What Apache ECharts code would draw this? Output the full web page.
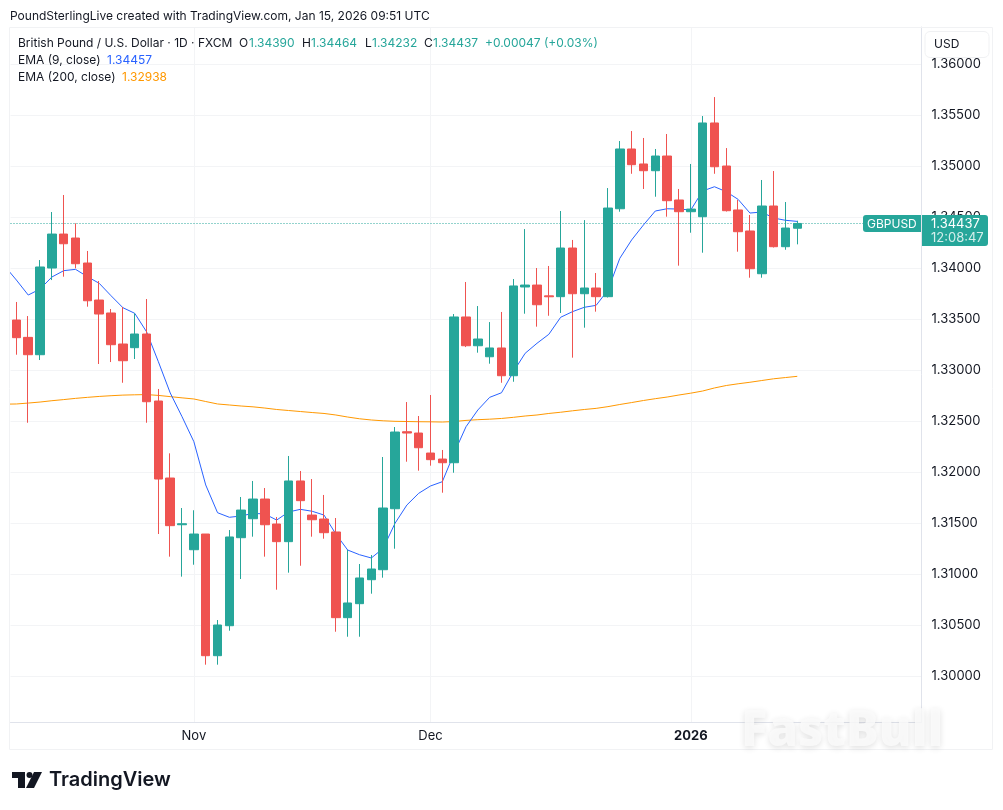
<!DOCTYPE html>
<html>
<head>
    <meta charset="utf-8">
    <title>GBPUSD</title>
    <style>
        html, body { margin: 0; padding: 0; background: #fff; }
    </style>
</head>
<body>
<script src="https://cdn.jsdelivr.net/npm/echarts@6/dist/echarts.min.js"></script>
<div id="main" style="width: 1003px;height:810px;"></div>
<script type="text/javascript">
    // trading days; the first one sits just left of the visible window, the last ten are empty space
    var dates = ['Oct 10',
        'Oct 13', 'Oct 14', 'Oct 15', 'Oct 16', 'Oct 17', 'Oct 20', 'Oct 21', 'Oct 22', 'Oct 23', 'Oct 24',
        'Oct 27', 'Oct 28', 'Oct 29', 'Oct 30', 'Oct 31', 'Nov 3', 'Nov 4', 'Nov 5', 'Nov 6', 'Nov 7',
        'Nov 10', 'Nov 11', 'Nov 12', 'Nov 13', 'Nov 14', 'Nov 17', 'Nov 18', 'Nov 19', 'Nov 20', 'Nov 21',
        'Nov 24', 'Nov 25', 'Nov 26', 'Nov 27', 'Nov 28', 'Dec 1', 'Dec 2', 'Dec 3', 'Dec 4', 'Dec 5',
        'Dec 8', 'Dec 9', 'Dec 10', 'Dec 11', 'Dec 12', 'Dec 15', 'Dec 16', 'Dec 17', 'Dec 18', 'Dec 19',
        'Dec 22', 'Dec 23', 'Dec 24', 'Dec 26', 'Dec 29', 'Dec 30', 'Dec 31', 'Jan 2', 'Jan 5', 'Jan 6',
        'Jan 7', 'Jan 8', 'Jan 9', 'Jan 12', 'Jan 13', 'Jan 14', 'Jan 15', 'Jan 16', 'Jan 19', 'Jan 20',
        'Jan 21', 'Jan 22', 'Jan 23', 'Jan 26', 'Jan 27', 'Jan 28', 'Jan 29'];

    var opens = [1.33490, 1.33320, 1.33150, 1.34000, 1.34333, 1.34294, 1.34049, 1.33686, 1.33559, 1.33255,
        1.33219, 1.33353, 1.32696, 1.31941, 1.31483, 1.31238, 1.31392, 1.30199, 1.30493, 1.31356,
        1.31542, 1.31735, 1.31490, 1.31317, 1.31912, 1.31578, 1.31539, 1.31412, 1.30572, 1.30709,
        1.30944, 1.31042, 1.31640, 1.32395, 1.32382, 1.32186, 1.32127, 1.32091, 1.33520, 1.33238,
        1.33130, 1.33216, 1.32944, 1.33814, 1.33833, 1.33727, 1.33719, 1.34196, 1.33748, 1.33804,
        1.33719, 1.34581, 1.35167, 1.35020, 1.34954, 1.35098, 1.34667, 1.34552, 1.34503, 1.35422,
        1.35000, 1.34569, 1.34363, 1.33944, 1.34608, 1.34209, 1.34390];
    var closes = [1.33317, 1.33150, 1.34010, 1.34333, 1.34238, 1.34042, 1.33679, 1.33549, 1.33248, 1.33091,
        1.33353, 1.32689, 1.31931, 1.31474, 1.31493, 1.31392, 1.30199, 1.30500, 1.31363, 1.31627,
        1.31735, 1.31483, 1.31317, 1.31912, 1.31719, 1.31532, 1.31405, 1.30572, 1.30716, 1.30961,
        1.31049, 1.31647, 1.32392, 1.32382, 1.32238, 1.32121, 1.32091, 1.33520, 1.33238, 1.33304,
        1.33216, 1.32944, 1.33824, 1.33833, 1.33640, 1.33718, 1.34196, 1.33748, 1.33804, 1.33719,
        1.34588, 1.35167, 1.35013, 1.34954, 1.35098, 1.34660, 1.34552, 1.34578, 1.35422, 1.34993,
        1.34562, 1.34356, 1.33993, 1.34608, 1.34209, 1.34392, 1.34437];
    var lows = [1.33150, 1.32483, 1.33098, 1.33882, 1.33915, 1.33997, 1.33621, 1.33059, 1.33078, 1.32875,
        1.33108, 1.32483, 1.31392, 1.31170, 1.30974, 1.31091, 1.30111, 1.30111, 1.30444, 1.30951,
        1.31366, 1.31170, 1.30846, 1.31013, 1.31081, 1.31366, 1.31346, 1.30434, 1.30385, 1.30385,
        1.30807, 1.30964, 1.31248, 1.32101, 1.32013, 1.32062, 1.31797, 1.31993, 1.33225, 1.33170,
        1.33062, 1.32875, 1.32885, 1.33552, 1.33425, 1.33532, 1.33559, 1.33121, 1.33415, 1.33572,
        1.33711, 1.34552, 1.34924, 1.34775, 1.34699, 1.34503, 1.34023, 1.34346, 1.34150, 1.34924,
        1.34554, 1.34160, 1.33905, 1.33905, 1.34201, 1.34179, 1.34232];
    var highs = [1.33667, 1.33529, 1.34078, 1.34549, 1.34716, 1.34438, 1.34167, 1.33873, 1.33598, 1.33618,
        1.33556, 1.33696, 1.32814, 1.32183, 1.31647, 1.31625, 1.31392, 1.30549, 1.31431, 1.31755,
        1.31912, 1.31843, 1.31559, 1.32157, 1.32010, 1.31931, 1.31775, 1.31549, 1.31235, 1.31098,
        1.31186, 1.32147, 1.32441, 1.32686, 1.32549, 1.32755, 1.32216, 1.33549, 1.33863, 1.33627,
        1.33470, 1.33569, 1.33892, 1.34382, 1.34000, 1.34020, 1.34559, 1.34275, 1.34470, 1.33951,
        1.34784, 1.35245, 1.35343, 1.35275, 1.35167, 1.35314, 1.34775, 1.35020, 1.35490, 1.35676,
        1.35176, 1.34667, 1.34520, 1.34863, 1.34951, 1.34647, 1.34464];

    var ema9 = [1.34020, 1.33882, 1.33735, 1.33794, 1.33912, 1.33974, 1.33987, 1.33915, 1.33850, 1.33728, 1.33611,
        1.33556, 1.33375, 1.33081, 1.32775, 1.32542, 1.32297, 1.31873, 1.31601, 1.31556, 1.31569,
        1.31595, 1.31588, 1.31529, 1.31608, 1.31634, 1.31615, 1.31578, 1.31392, 1.31235, 1.31189,
        1.31157, 1.31252, 1.31497, 1.31676, 1.31791, 1.31863, 1.31905, 1.32186, 1.32444, 1.32608,
        1.32732, 1.32777, 1.32983, 1.33164, 1.33262, 1.33350, 1.33517, 1.33572, 1.33615, 1.33634,
        1.33784, 1.34095, 1.34275, 1.34422, 1.34559, 1.34581, 1.34578, 1.34569, 1.34755, 1.34797,
        1.34748, 1.34673, 1.34539, 1.34549, 1.34490, 1.34468, 1.34457];
    var ema200 = [1.32665, 1.32667, 1.32676, 1.32686, 1.32699, 1.32710, 1.32722, 1.32732, 1.32741, 1.32748, 1.32754,
        1.32757, 1.32759, 1.32751, 1.32739, 1.32727, 1.32716, 1.32691, 1.32667, 1.32657, 1.32647,
        1.32639, 1.32627, 1.32613, 1.32603, 1.32593, 1.32583, 1.32574, 1.32559, 1.32539, 1.32522,
        1.32510, 1.32502, 1.32497, 1.32495, 1.32493, 1.32492, 1.32490, 1.32495, 1.32506, 1.32513,
        1.32518, 1.32525, 1.32536, 1.32549, 1.32559, 1.32574, 1.32586, 1.32600, 1.32613, 1.32624,
        1.32641, 1.32662, 1.32681, 1.32701, 1.32719, 1.32735, 1.32755, 1.32773, 1.32794, 1.32824,
        1.32848, 1.32865, 1.32880, 1.32897, 1.32914, 1.32926, 1.32938];

    var priceTicks = [1.30, 1.305, 1.31, 1.315, 1.32, 1.325, 1.33, 1.335, 1.34, 1.345, 1.35, 1.355, 1.36];
    var monthTicks = {'Nov 3': 'Nov', 'Dec 1': 'Dec', 'Jan 2': '2026'};
    var lastPrice = 1.34437;

    var UP = '#26a69a', DOWN = '#ef5350', INK = '#131722', GRID = '#f3f4f6', LINE = '#e0e3eb';

    var candles = [['-', '-', '-', '-']];
    for (var i = 0; i < opens.length; i++) {
        candles.push([opens[i], closes[i], lows[i], highs[i]]);
    }

    // helper for the TradingView legend and tags
    function label(x, y, text, color, extra) {
        var style = Object.assign({
            text: text,
            fill: color || INK,
            font: '12px Inter',
            textVerticalAlign: 'middle'
        }, extra || {});
        return {type: 'text', x: x, y: y, z: 100, silent: true, style: style};
    }

    var graphics = [
        {type: 'rect', z: 90, silent: true, shape: {x: 9.5, y: 27.5, width: 983, height: 722},
            style: {fill: 'none', stroke: '#f1f2f4', lineWidth: 1}},

        // currency box, covers the top tick label
        {type: 'rect', z: 95, silent: true, shape: {x: 925, y: 31.5, width: 64, height: 26, r: 5},
            style: {fill: '#fff', stroke: '#f0f1f3', lineWidth: 1}},
        label(934, 44, 'USD'),

        // last price tags
        {type: 'rect', z: 95, silent: true, shape: {x: 863, y: 215, width: 58, height: 17, r: [3, 0, 0, 3]},
            style: {fill: UP}},
        {type: 'rect', z: 95, silent: true, shape: {x: 922, y: 215, width: 66, height: 31, r: [0, 3, 3, 0]},
            style: {fill: UP}},
        label(867, 224, 'GBPUSD', '#fff'),
        label(931, 224, '1.34437', '#fff', {font: '13px Inter'}),
        label(931, 238, '12:08:47', '#d4eeeb', {font: '13px Inter'}),

        // header
        label(10, 16, 'PoundSterlingLive created with TradingView.com, Jan 15, 2026 09:51 UTC'),
        label(18, 43, 'British Pound / U.S. Dollar · 1D · FXCM'),
        label(239, 43, 'O'), label(249, 43, '1.34390', UP),
        label(302, 43, 'H'), label(311, 43, '1.34464', UP),
        label(365, 43, 'L'), label(372, 43, '1.34232', UP),
        label(424, 43, 'C'), label(433, 43, '1.34437', UP),
        label(485, 43, '+0.00047 (+0.03%)', UP),
        label(18, 60, 'EMA (9, close)'), label(107, 60, '1.34457', '#2962ff'),
        label(18, 77, 'EMA (200, close)'), label(122, 77, '1.32938', '#ff9800'),

        // watermark
        label(741, 732, 'FastBull', 'rgba(250,250,250,0.85)', {
            font: '800 49px "Open Sans"',
            textShadowColor: 'rgba(0,0,0,0.14)',
            textShadowBlur: 6,
            textShadowOffsetY: 2
        }),

        // TradingView logo
        {type: 'polygon', z: 100, silent: true, style: {fill: INK},
            shape: {points: [[12, 772], [25, 772], [25, 788], [18, 788], [18, 778], [12, 778]]}},
        {type: 'circle', z: 100, silent: true, style: {fill: INK}, shape: {cx: 29.5, cy: 775, r: 3}},
        {type: 'polygon', z: 100, silent: true, style: {fill: INK},
            shape: {points: [[34, 772], [42, 772], [34, 788], [26, 788]]}},
        label(49, 780, 'TradingView', INK, {font: '600 20px Inter'})
    ];

    var myChart = echarts.init(document.getElementById('main'));
    var option = {
        animation: false,
        grid: {left: 10.5, right: 81.5, top: 27, bottom: 88},
        xAxis: {
            type: 'category',
            data: dates,
            min: 1,
            boundaryGap: true,
            axisLine: {lineStyle: {color: LINE}},
            axisTick: {show: false},
            splitLine: {show: false},
            axisLabel: {
                margin: 8,
                interval: function (index, value) {
                    return monthTicks[value] !== undefined;
                },
                formatter: function (value) {
                    var text = monthTicks[value];
                    return text === '2026' ? '{year|' + text + '}' : text;
                },
                color: INK,
                fontFamily: 'Inter',
                fontSize: 13,
                rich: {year: {color: INK, fontFamily: 'Inter', fontSize: 13, fontWeight: 'bold'}}
            }
        },
        yAxis: {
            type: 'value',
            position: 'right',
            min: 1.29549,
            max: 1.36363,
            scale: true,
            axisLine: {show: true, lineStyle: {color: LINE}},
            axisTick: {show: false, customValues: priceTicks},
            splitLine: {show: true, lineStyle: {color: GRID}},
            axisLabel: {
                customValues: priceTicks,
                margin: 10,
                color: INK,
                fontFamily: 'Inter',
                fontSize: 13,
                formatter: function (value) {
                    return value.toFixed(5);
                }
            }
        },
        series: [
            {
                name: 'EMA 200',
                type: 'line',
                data: ema200,
                symbol: 'none',
                lineStyle: {color: '#ff9800', width: 1},
                markLine: {
                    z: 1,
                    silent: true,
                    symbol: 'none',
                    label: {show: false},
                    lineStyle: {color: GRID, type: 'solid', width: 1},
                    data: Object.keys(monthTicks).map(function (d) { return {xAxis: d}; })
                }
            },
            {
                name: 'EMA 9',
                type: 'line',
                data: ema9,
                symbol: 'none',
                lineStyle: {color: '#2962ff', width: 1},
                markLine: {
                    z: 1,
                    silent: true,
                    symbol: 'none',
                    precision: 5,
                    label: {show: false},
                    lineStyle: {color: UP, type: [1, 2], width: 1},
                    data: [{yAxis: lastPrice}]
                }
            },
            {
                name: 'GBPUSD',
                type: 'candlestick',
                z: 3,
                barWidth: 9,
                data: candles,
                itemStyle: {color: UP, color0: DOWN, borderColor: UP, borderColor0: DOWN, borderWidth: 1}
            }
        ],
        graphic: graphics
    };
    myChart.setOption(option);
</script>
</body>
</html>
